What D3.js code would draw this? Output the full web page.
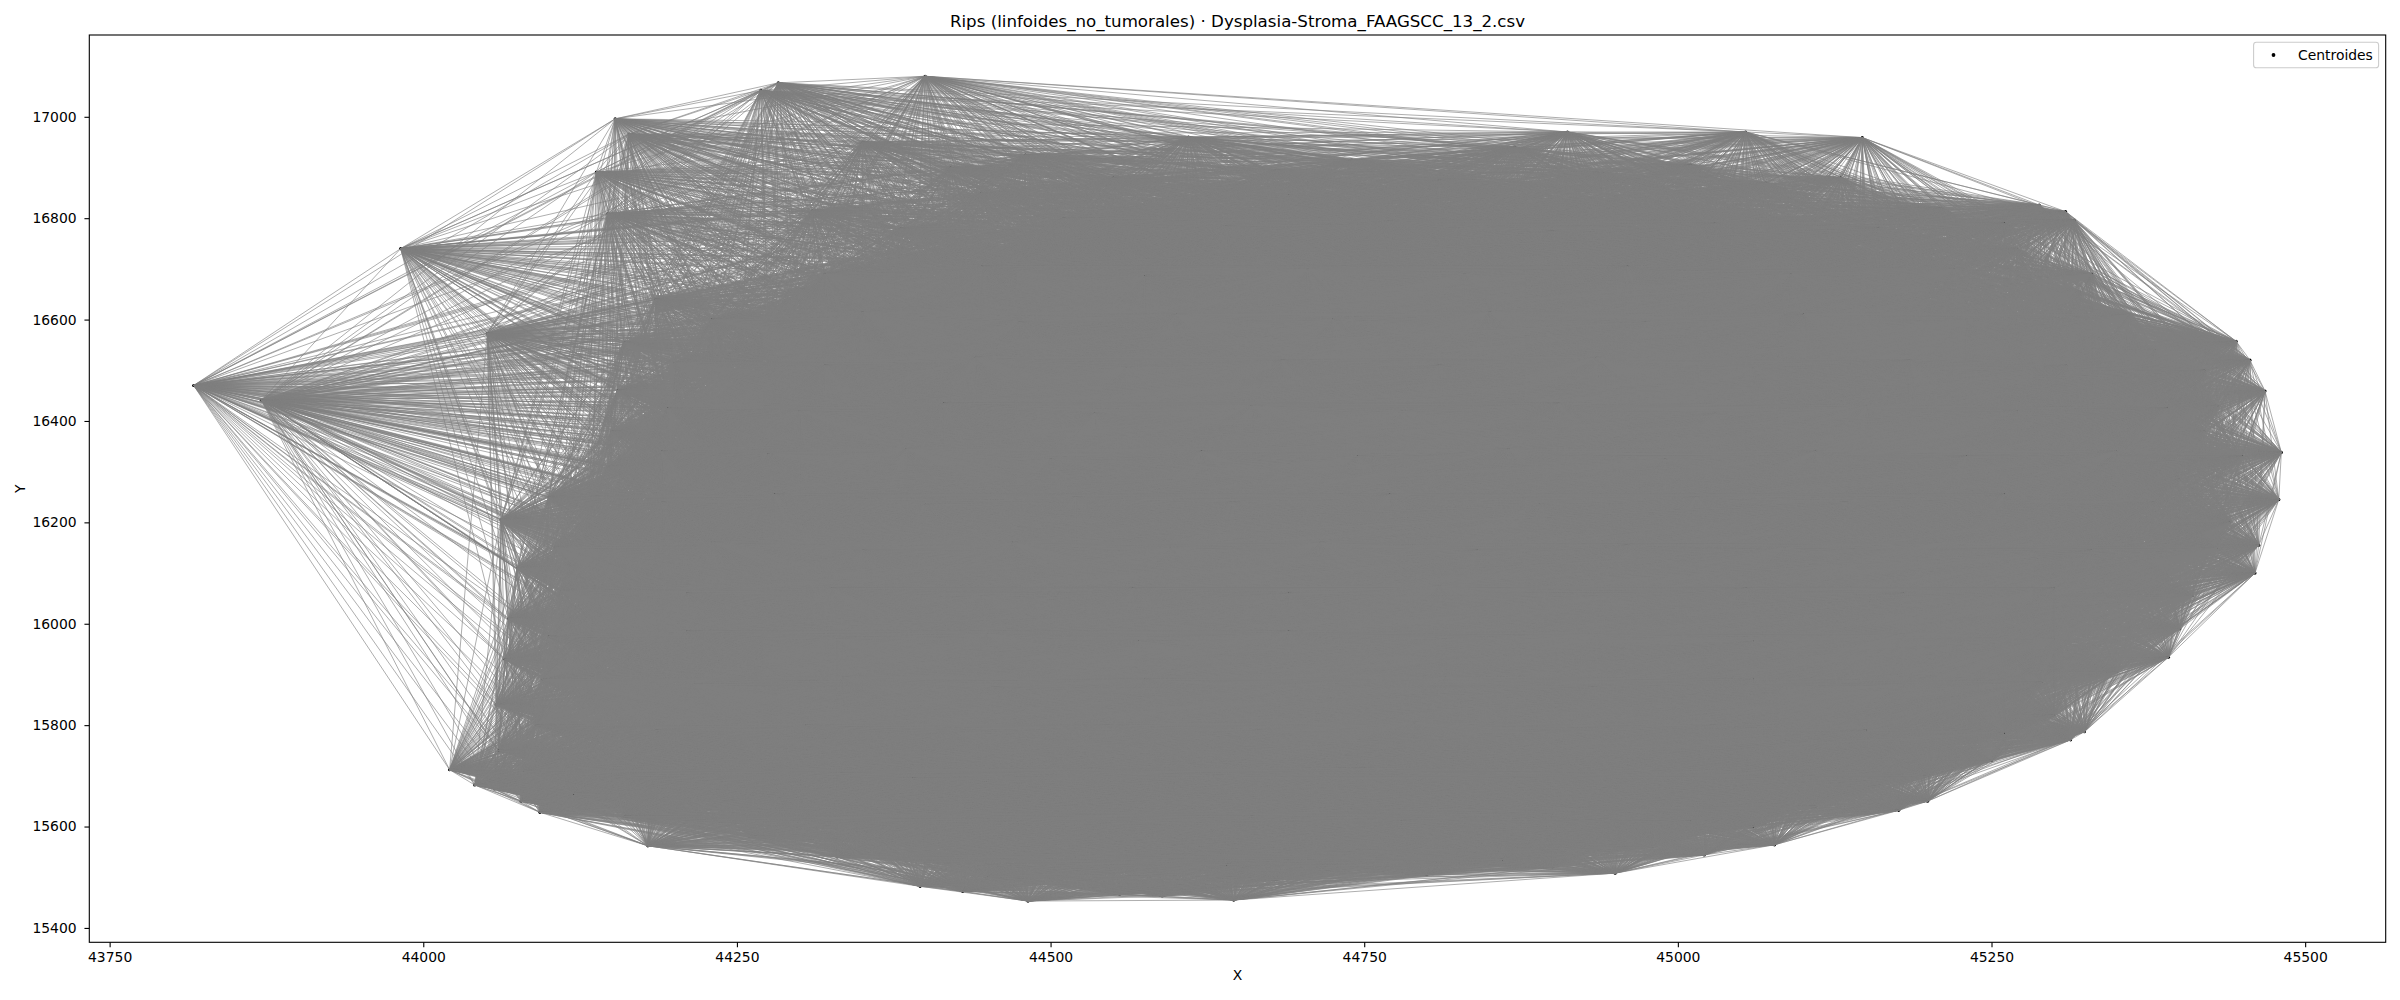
<!DOCTYPE html>
<html><head><meta charset="utf-8">
<script src="https://cdn.jsdelivr.net/npm/d3@7"></script>
<style>
body{margin:0;background:#fff}
text{font-family:"DejaVu Sans",sans-serif;fill:#000}
</style>
</head><body>
<svg id="chart" width="2400" height="1000"></svg>
<script>
// ---------------- data ----------------
const chartTitle = "Rips (linfoides_no_tumorales) · Dysplasia-Stroma_FAAGSCC_13_2.csv";
const xAxisLabel = "X";
const yAxisLabel = "Y";
const legendLabel = "Centroides";

// centroids
const boundaryCentroids = [
  [43817,16470],[43871,16441],[43982,16740],[44051,16573],[44138,16891],[44147,16809],
  [44153,16996],[44164,16966],[44269,17052],[44283,17067],[44400,17080],[44912,16970],
  [45054,16970],[45147,16959],[45288,16826],[45309,16813],[45316,16796],[45429,16566],
  [45445,16557],[45456,16520],[45468,16459],[45481,16338],[45479,16245],[45463,16155],
  [45460,16100],[45391,15934],[45324,15787],[45313,15771],[45199,15650],[45176,15632],
  [45077,15564],[45021,15544],[44950,15508],[44646,15455],[44589,15463],[44555,15466],
  [44482,15453],[44430,15472],[44396,15482],[44179,15562],[44093,15628],[44078,15650],
  [44057,15674],[44041,15682],[44021,15712],[44062,16205]
];

// centroids hidden inside the dense grey mass (estimated)
const innerCentroids = [
  [44350,16950],[44480,16925],[44610,16960],[44740,16915],[44870,16940],[45010,16905],[45130,16880],
  [44310,16815],[44445,16850],[44560,16820],[44690,16845],[44820,16810],[44950,16835],[45080,16800],[45210,16820],
  [44370,16720],[44500,16755],[44630,16730],[44760,16740],[44890,16715],[45020,16750],[45150,16725],[45270,16740],
  [44185,16640],[44300,16660],[44420,16635],[44545,16665],[44670,16640],[44800,16660],[44925,16630],[45055,16655],[45180,16640],[45320,16655],
  [44160,16555],[44275,16570],[44390,16545],[44510,16575],[44640,16550],[44760,16570],[44885,16545],[45010,16565],[45140,16550],[45270,16570],[45380,16540],
  [44155,16460],[44250,16480],[44365,16455],[44480,16485],[44600,16460],[44725,16475],[44850,16450],[44975,16480],[45100,16460],[45225,16475],[45350,16455],[45430,16430],
  [44150,16380],[44240,16390],[44340,16370],[44455,16395],[44575,16365],[44700,16385],[44820,16360],[44945,16390],[45065,16370],[45190,16385],[45310,16365],[45420,16380],
  [44147,16310],[44215,16280],[44310,16300],[44420,16275],[44545,16300],[44665,16280],[44790,16305],[44910,16275],[45035,16295],[45160,16280],[45285,16300],[45400,16285],
  [44130,16190],[44240,16210],[44360,16185],[44480,16215],[44600,16190],[44725,16205],[44850,16180],[44975,16210],[45095,16190],[45220,16205],[45345,16185],[45440,16200],
  [44075,16110],[44180,16100],[44295,16120],[44410,16095],[44535,16115],[44655,16100],[44780,16120],[44900,16095],[45025,16115],[45150,16100],[45270,16120],[45390,16095],
  [44068,16010],[44135,16030],[44240,16015],[44355,16035],[44470,16010],[44595,16030],[44715,16005],[44840,16025],[44960,16010],[45085,16030],[45205,16010],[45325,16025],[45400,15990],
  [44065,15930],[44190,15920],[44300,15940],[44420,15915],[44540,15935],[44660,15920],[44780,15945],[44905,15920],[45030,15940],[45150,15915],[45270,15935],[45350,15905],
  [44058,15840],[44130,15850],[44245,15830],[44365,15850],[44485,15825],[44605,15845],[44725,15830],[44850,15850],[44970,15825],[45090,15845],[45210,15830],[45300,15820],
  [44060,15750],[44180,15760],[44300,15740],[44420,15765],[44540,15745],[44660,15760],[44785,15740],[44905,15760],[45025,15745],[45145,15755],[45250,15730],
  [44120,15665],[44240,15650],[44355,15670],[44475,15645],[44595,15665],[44715,15650],[44835,15670],[44955,15645],[45075,15660],[45160,15680],
  [44260,15580],[44380,15565],[44500,15585],[44620,15560],[44740,15580],[44860,15565],[44980,15580],[45060,15600],
  [44450,15500],[44560,15510],[44680,15495],[44800,15505],[44900,15520]
];

// second, staggered layer of hidden centroids (estimated)
const innerCentroidsB = [
  [44420,16900],[44550,16880],[44680,16895],[44810,16875],[44940,16890],[45070,16870],
  [44380,16780],[44510,16800],[44640,16785],[44770,16795],[44900,16775],[45030,16790],[45160,16780],[45260,16790],
  [44320,16690],[44445,16705],[44575,16685],[44705,16700],[44830,16690],[44960,16705],[45090,16690],[45220,16700],[45330,16690],
  [44230,16600],[44350,16615],[44475,16595],[44600,16610],[44725,16600],[44850,16615],[44975,16595],[45100,16610],[45230,16600],[45360,16610],
  [44200,16515],[44320,16510],[44440,16525],[44560,16505],[44685,16520],[44810,16510],[44935,16525],[45060,16505],[45185,16520],[45310,16510],[45420,16500],
  [44195,16425],[44300,16420],[44415,16435],[44535,16415],[44660,16430],[44780,16420],[44905,16435],[45030,16415],[45150,16430],[45270,16420],[45390,16425],
  [44190,16340],[44275,16335],[44385,16345],[44500,16325],[44620,16340],[44745,16330],[44865,16345],[44990,16325],[45110,16340],[45230,16330],[45350,16340],[45450,16330],
  [44100,16250],[44190,16240],[44280,16255],[44400,16235],[44520,16250],[44645,16240],[44770,16255],[44890,16235],[45015,16250],[45135,16240],[45260,16255],[45380,16240],
  [44105,16150],[44230,16160],[44350,16145],[44470,16160],[44595,16150],[44715,16160],[44840,16145],[44960,16155],[45085,16150],[45210,16160],[45330,16145],[45430,16150],
  [44110,16065],[44210,16060],[44325,16070],[44445,16055],[44565,16070],[44690,16060],[44810,16075],[44935,16055],[45055,16070],[45180,16060],[45300,16070],[45410,16055],
  [44100,15975],[44210,15985],[44330,15970],[44450,15980],[44570,15965],[44690,15985],[44815,15970],[44935,15980],[45060,15965],[45180,15980],[45300,15970],
  [44095,15890],[44215,15880],[44335,15895],[44455,15875],[44575,15890],[44695,15880],[44815,15895],[44935,15875],[45060,15890],[45180,15880],[45290,15885],
  [44090,15800],[44185,15790],[44305,15800],[44425,15785],[44545,15800],[44665,15790],[44790,15805],[44910,15785],[45030,15800],[45150,15790],[45260,15785],
  [44080,15710],[44150,15700],[44270,15710],[44390,15695],[44510,15710],[44630,15700],[44750,15715],[44870,15695],[44990,15710],[45110,15700],[45200,15700],
  [44160,15620],[44300,15615],[44420,15625],[44540,15605],[44660,15620],[44780,15610],[44900,15625],[45010,15610],[45110,15640],
  [44330,15540],[44400,15530],[44520,15540],[44640,15525],[44760,15540],[44860,15535],[44980,15560]
];

const xTickValues = [43750,44000,44250,44500,44750,45000,45250,45500];
const yTickValues = [15400,15600,15800,16000,16200,16400,16600,16800,17000];
const ripsRadius = 870;   // filtration radius used to join centroids

// ---------------- drawing ----------------
const W = 2400, H = 1000;
const plot = {left: 89.3, right: 2385.7, top: 35, bottom: 942.3};
const svg = d3.select("#chart");

const centroids = boundaryCentroids.concat(innerCentroids, innerCentroidsB);
const [xmin, xmax] = d3.extent(centroids, d => d[0]);
const [ymin, ymax] = d3.extent(centroids, d => d[1]);
const xm = 0.05 * (xmax - xmin), ym = 0.05 * (ymax - ymin);

const x = d3.scaleLinear().domain([xmin - xm, xmax + xm]).range([plot.left, plot.right]);
const y = d3.scaleLinear().domain([ymin - ym, ymax + ym]).range([plot.bottom, plot.top]);

svg.append("rect").attr("width", W).attr("height", H).attr("fill", "#fff");

svg.append("defs").append("clipPath").attr("id", "clip")
  .append("rect")
  .attr("x", plot.left).attr("y", plot.top)
  .attr("width", plot.right - plot.left).attr("height", plot.bottom - plot.top);

// Rips edges
const edges = [];
for (let i = 0; i < centroids.length; i++) {
  for (let j = i + 1; j < centroids.length; j++) {
    const dx = centroids[i][0] - centroids[j][0];
    const dy = centroids[i][1] - centroids[j][1];
    if (Math.hypot(dx, dy) <= ripsRadius) edges.push([centroids[i], centroids[j]]);
  }
}

const body = svg.append("g").attr("clip-path", "url(#clip)");

// centroids (underneath the edges, as in the reference)
body.append("g").selectAll("circle")
  .data(centroids).join("circle")
  .attr("cx", d => x(d[0])).attr("cy", d => y(d[1]))
  .attr("r", 1.6).attr("fill", "#000");

body.append("g")
  .attr("stroke", "#808080").attr("stroke-width", 0.75).attr("stroke-opacity", 0.85)
  .selectAll("line")
  .data(edges).join("line")
  .attr("x1", d => x(d[0][0])).attr("y1", d => y(d[0][1]))
  .attr("x2", d => x(d[1][0])).attr("y2", d => y(d[1][1]));

// axes
const xAxis = d3.axisBottom(x).tickValues(xTickValues).tickSize(4.86).tickPadding(5.3)
  .tickFormat(d3.format("d"));
const gx = svg.append("g").attr("transform", `translate(0,${plot.bottom})`).call(xAxis);
const yAxis = d3.axisLeft(y).tickValues(yTickValues).tickSize(4.86).tickPadding(7.8)
  .tickFormat(d3.format("d"));
const gy = svg.append("g").attr("transform", `translate(${plot.left},0)`).call(yAxis);
[gx, gy].forEach(g => {
  g.select(".domain").remove();
  g.selectAll(".tick line").attr("stroke", "#000").attr("stroke-width", 1.1);
  g.selectAll(".tick text").attr("font-size", "13.9px")
    .attr("font-family", "DejaVu Sans, sans-serif").attr("fill", "#000");
});

svg.append("rect")
  .attr("x", plot.left).attr("y", plot.top)
  .attr("width", plot.right - plot.left).attr("height", plot.bottom - plot.top)
  .attr("fill", "none").attr("stroke", "#000").attr("stroke-width", 1.1);

// title and axis labels
svg.append("text").attr("x", (plot.left + plot.right) / 2).attr("y", 27.3)
  .attr("text-anchor", "middle").attr("font-size", "16.67px").text(chartTitle);
svg.append("text").attr("x", (plot.left + plot.right) / 2).attr("y", 979.5)
  .attr("text-anchor", "middle").attr("font-size", "13.9px").text(xAxisLabel);
svg.append("text")
  .attr("transform", `translate(24.5,${(plot.top + plot.bottom) / 2}) rotate(-90)`)
  .attr("text-anchor", "middle").attr("font-size", "13.9px").text(yAxisLabel);

// legend
const lg = svg.append("g");
lg.append("rect").attr("x", 2253.6).attr("y", 42.3).attr("width", 125).attr("height", 25.4)
  .attr("rx", 2.8).attr("fill", "#fff").attr("fill-opacity", 0.8)
  .attr("stroke", "#cccccc").attr("stroke-width", 1.1);
lg.append("circle").attr("cx", 2273.5).attr("cy", 55).attr("r", 1.9).attr("fill", "#000");
lg.append("text").attr("x", 2298).attr("y", 60).attr("font-size", "13.9px").text(legendLabel);
</script>
</body></html>
